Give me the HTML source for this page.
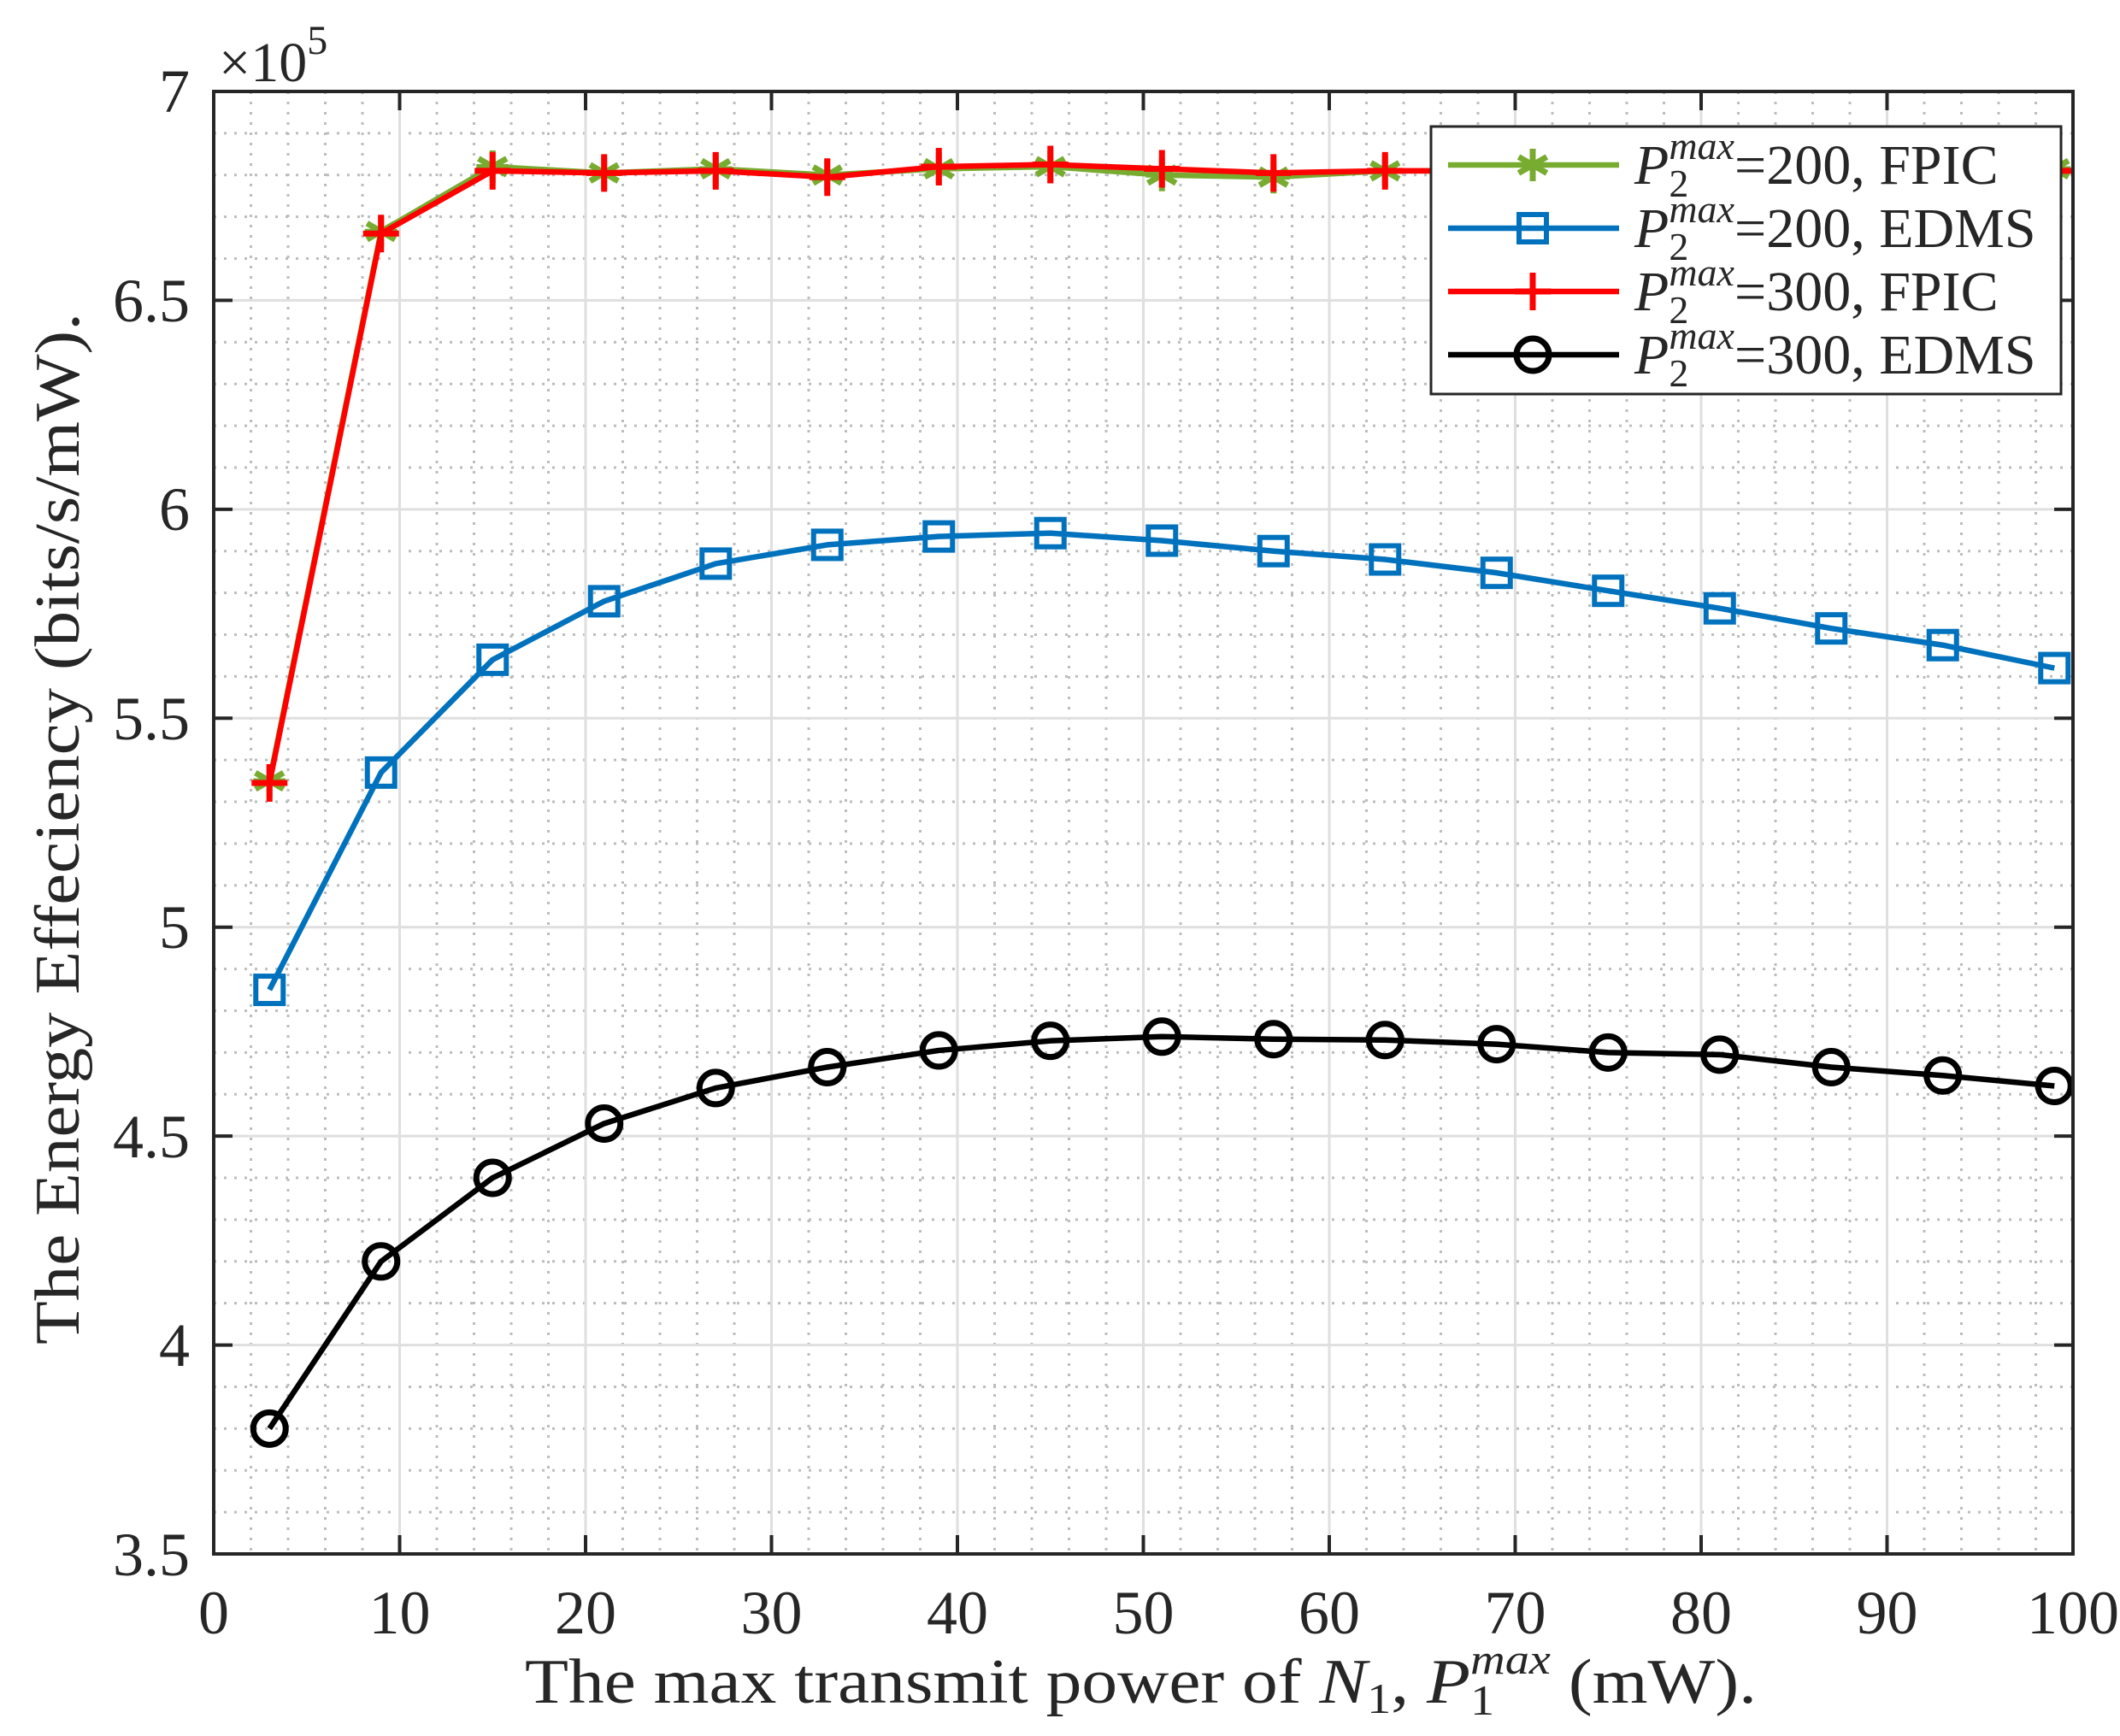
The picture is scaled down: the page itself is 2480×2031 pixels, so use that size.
<!DOCTYPE html>
<html><head><meta charset="utf-8"><style>
html,body{margin:0;padding:0;background:#fff;}
svg{display:block;}
text{font-family:"Liberation Serif",serif;fill:#262626;}
</style></head><body>
<svg id="s" width="2480" height="2031" viewBox="0 0 2480 2031" xmlns="http://www.w3.org/2000/svg">
<rect width="2480" height="2031" fill="#fff"/>
<g id="grid"></g>
<g id="series"></g>
<rect x="250" y="107" width="2175" height="1711" fill="none" stroke="#262626" stroke-width="4"/>
<g id="ticks"></g>
<g font-size="72" text-anchor="end">
<text x="222" y="131">7</text>
<text x="222" y="376">6.5</text>
<text x="222" y="620">6</text>
<text x="222" y="865">5.5</text>
<text x="222" y="1109">5</text>
<text x="222" y="1354">4.5</text>
<text x="222" y="1598">4</text>
<text x="222" y="1843">3.5</text>
</g>
<g font-size="72" text-anchor="middle">
<text x="250" y="1911">0</text>
<text x="467.5" y="1911">10</text>
<text x="685" y="1911">20</text>
<text x="902.5" y="1911">30</text>
<text x="1120" y="1911">40</text>
<text x="1337.5" y="1911">50</text>
<text x="1555" y="1911">60</text>
<text x="1772.5" y="1911">70</text>
<text x="1990" y="1911">80</text>
<text x="2207.5" y="1911">90</text>
<text x="2425" y="1911">100</text>
</g>
<text x="256" y="95" font-size="66">×10<tspan font-size="48" dy="-32">5</tspan></text>
<text x="614" y="1992" font-size="74" textLength="1441" lengthAdjust="spacingAndGlyphs">The max transmit power of <tspan font-style="italic">N</tspan><tspan font-size="50" dy="12">1</tspan><tspan dy="-12">, </tspan><tspan font-style="italic">P</tspan><tspan font-size="50" dy="14">1</tspan><tspan font-size="50" font-style="italic" dx="-25" dy="-48">max</tspan><tspan dy="34"> (mW).</tspan></text>
<text transform="translate(92,1573) rotate(-90)" font-size="74" textLength="1207" lengthAdjust="spacingAndGlyphs">The Energy Effeciency (bits/s/mW).</text>
<g id="legend">
<rect x="1674" y="148" width="737" height="313" fill="#fff" stroke="#262626" stroke-width="3"/>
</g>
</svg>
<script>
const L=250,R=2425,T=107,B=1818;
const X=v=>L+(v/100)*(R-L), Y=v=>T+(7-v)/3.5*(B-T);
const ns="http://www.w3.org/2000/svg";
function el(p,n,a){const e=document.createElementNS(ns,n);for(const k in a)e.setAttribute(k,a[k]);p.appendChild(e);return e;}
const g=document.getElementById('grid'),tk=document.getElementById('ticks');
for(let i=2;i<100;i+=2){if(i%10==0)continue;el(g,'line',{x1:X(i),x2:X(i),y1:T,y2:B,stroke:'#bdbdbd','stroke-width':3,'stroke-dasharray':'3 9'});}
for(let i=1;i<35;i++){if(i%5==0)continue;const v=3.5+i*0.1;el(g,'line',{x1:L,x2:R,y1:Y(v),y2:Y(v),stroke:'#bdbdbd','stroke-width':3,'stroke-dasharray':'3 9'});}
for(let i=10;i<100;i+=10){el(g,'line',{x1:X(i),x2:X(i),y1:T,y2:B,stroke:'#dfdfdf','stroke-width':3});
 el(tk,'line',{x1:X(i),x2:X(i),y1:B,y2:B-22,stroke:'#262626','stroke-width':4});el(tk,'line',{x1:X(i),x2:X(i),y1:T,y2:T+22,stroke:'#262626','stroke-width':4});}
for(let i=1;i<7;i++){const v=3.5+i*0.5;el(g,'line',{x1:L,x2:R,y1:Y(v),y2:Y(v),stroke:'#dfdfdf','stroke-width':3});
 el(tk,'line',{x1:L,x2:L+22,y1:Y(v),y2:Y(v),stroke:'#262626','stroke-width':4});el(tk,'line',{x1:R,x2:R-22,y1:Y(v),y2:Y(v),stroke:'#262626','stroke-width':4});}
const xs=[];for(let x=3;x<=99;x+=6)xs.push(x);
const data=[
 {c:'#77AC30',m:'star',d:[5.35,6.665,6.82,6.805,6.815,6.80,6.815,6.82,6.80,6.795,6.81,6.81,6.81,6.81,6.81,6.81,6.815]},
 {c:'#0072BD',m:'sq',d:[4.85,5.37,5.64,5.78,5.87,5.915,5.935,5.943,5.925,5.90,5.88,5.848,5.805,5.763,5.715,5.675,5.62]},
 {c:'#FF0000',m:'plus',d:[5.345,6.66,6.81,6.805,6.81,6.795,6.82,6.825,6.815,6.805,6.81,6.81,6.81,6.81,6.81,6.81,6.81]},
 {c:'#000000',m:'circ',d:[3.80,4.20,4.40,4.53,4.615,4.665,4.705,4.728,4.738,4.732,4.730,4.72,4.70,4.695,4.665,4.645,4.62]}
];
function marker(p,m,c,x,y){
 if(m=='star'){for(const a of [0,60,120]){const r=a*Math.PI/180,dx=Math.sin(r)*19,dy=Math.cos(r)*19;el(p,'line',{x1:x-dx,y1:y-dy,x2:x+dx,y2:y+dy,stroke:c,'stroke-width':7});}el(p,'line',{x1:x-19,x2:x+19,y1:y,y2:y,stroke:c,'stroke-width':6});}
 if(m=='sq')el(p,'rect',{x:x-16,y:y-16,width:32,height:32,fill:'none',stroke:c,'stroke-width':6});
 if(m=='plus'){el(p,'line',{x1:x-21,x2:x+21,y1:y,y2:y,stroke:c,'stroke-width':7});el(p,'line',{x1:x,x2:x,y1:y-22,y2:y+22,stroke:c,'stroke-width':7});}
 if(m=='circ')el(p,'circle',{cx:x,cy:y,r:19,fill:'none',stroke:c,'stroke-width':7});
}
const sg=document.getElementById('series');
for(const s of data){el(sg,'polyline',{points:s.d.map((v,i)=>X(xs[i])+','+Y(v)).join(' '),fill:'none',stroke:s.c,'stroke-width':6.5,'stroke-linejoin':'round'});
 s.d.forEach((v,i)=>marker(sg,s.m,s.c,X(xs[i]),Y(v)));}
const lg=document.getElementById('legend');
const labs=['=200, FPIC','=200, EDMS','=300, FPIC','=300, EDMS'];
const ly=[193,267,341,415];
data.forEach((s,i)=>{el(lg,'line',{x1:1694,x2:1894,y1:ly[i],y2:ly[i],stroke:s.c,'stroke-width':6.5});marker(lg,s.m,s.c,1793,ly[i]);
 const t=el(lg,'text',{x:1912,y:ly[i]+22,'font-size':66});
 t.innerHTML='<tspan font-style="italic">P</tspan><tspan font-size="46" dy="15">2</tspan><tspan font-size="46" font-style="italic" dx="-23" dy="-44">max</tspan><tspan dy="29">'+labs[i]+'</tspan>';});
</script>
</body></html>
